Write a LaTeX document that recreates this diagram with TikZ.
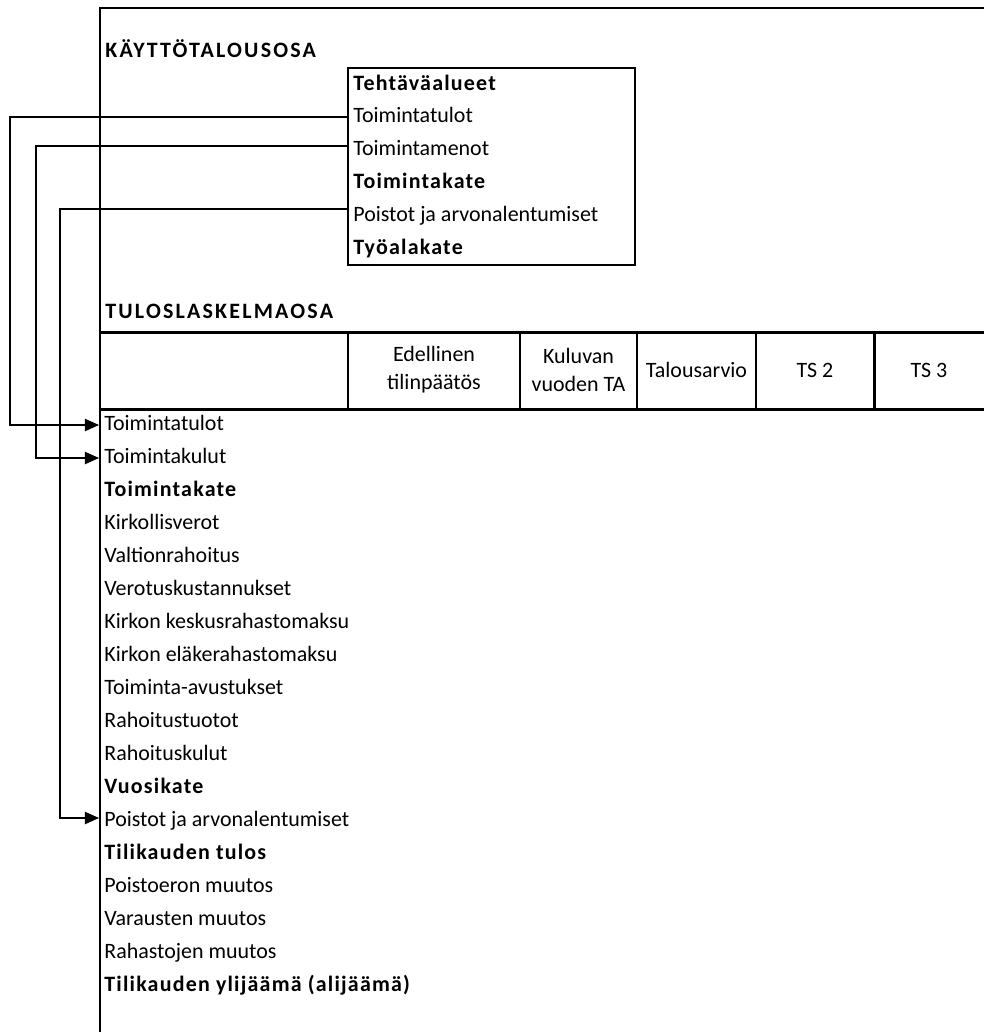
\documentclass[tikz,border=0pt]{standalone}
\usepackage{fontspec}
\setmainfont{Carlito}
\usepackage{tikz}
\usetikzlibrary{arrows.meta,positioning}

\begin{document}
\begin{tikzpicture}
	[x=0.02cm, y=-0.02cm, inner sep=0pt,
	font=\fontsize{12.5}{16}\selectfont,
	row/.style	= {anchor=west, text height=9pt, text depth=3pt},
	heading/.style	= {row, font=\fontsize{12.5}{16}\selectfont\bfseries\addfontfeatures{LetterSpace=5.5}},
	section/.style	= {row, font=\fontsize{12.5}{16}\selectfont\bfseries\addfontfeatures{LetterSpace=10}},
	colhead/.style	= {align=center, font=\fontsize{12.5}{16}\selectfont},
	frame/.style	= {line width=1.7pt},
	boxline/.style	= {line width=1.3pt},
	link/.style	= {-{Triangle[length=8pt, width=7pt]}, line width=0.6pt}]
	
	\useasboundingbox (0,0) rectangle (984,1032);
	
	% frame and table head
	\draw [frame] (984,8) -- (100,8) -- (100,1032);
	\draw [frame] (100,332) -- (984,332);
	\draw [frame] (100,409) -- (984,409);
	\foreach \cx in {348,520,637,756,874}
		\draw [frame] (\cx,332) -- (\cx,409);
	
	\node at (105,52)	[section]	(kto)	{KÄYTTÖTALOUSOSA};
	\node at (105,313)	[section]	(tlo)	{TULOSLASKELMAOSA};
	
	% tehtavaalueet box
	\node at (491.5,166.5)	[draw, boxline, minimum width=5.74cm, minimum height=3.94cm] (box) {};
	\node at (353,85)	[heading]	(ka1)	{Tehtäväalueet};
	\node at (353,117)	[row]		(ka2)	{Toimintatulot};
	\node at (353,150)	[row]		(ka3)	{Toimintamenot};
	\node at (353,183)	[heading]	(ka4)	{Toimintakate};
	\node at (353,216)	[row]		(ka5)	{Poistot ja arvonalentumiset};
	\node at (353,249)	[heading]	(ka6)	{Työalakate};
	
	% column heads
	\node at (434,370)	[colhead]	(c1)	{Edellinen\\tilinpäätös};
	\node at (578.5,370)	[colhead]	(c2)	{Kuluvan\\vuoden TA};
	\node at (696.5,370)	[colhead]	(c3)	{Talousarvio};
	\node at (815,370)	[colhead]	(c4)	{TS 2};
	\node at (929,370)	[colhead]	(c5)	{TS 3};
	
	% tuloslaskelma rows
	\node at (104,425)	[row]		(ta1)	{Toimintatulot};
	\node at (104,458)	[row]		(ta2)	{Toimintakulut};
	\node at (104,491)	[heading]	(ta3)	{Toimintakate};
	\node at (104,524)	[row]		(ta4)	{Kirkollisverot};
	\node at (104,557)	[row]		(ta5)	{Valtionrahoitus};
	\node at (104,590)	[row]		(ta6)	{Verotuskustannukset};
	\node at (104,623)	[row]		(ta7)	{Kirkon keskusrahastomaksu};
	\node at (104,656)	[row]		(ta8)	{Kirkon eläkerahastomaksu};
	\node at (104,689)	[row]		(ta9)	{Toiminta-avustukset};
	\node at (104,722)	[row]		(ta10)	{Rahoitustuotot};
	\node at (104,755)	[row]		(ta11)	{Rahoituskulut};
	\node at (104,788)	[heading]	(ta12)	{Vuosikate};
	\node at (104,821)	[row]		(ta13)	{Poistot ja arvonalentumiset};
	\node at (104,854)	[heading]	(ta14)	{Tilikauden tulos};
	\node at (104,887)	[row]		(ta15)	{Poistoeron muutos};
	\node at (104,920)	[row]		(ta16)	{Varausten muutos};
	\node at (104,953)	[row]		(ta17)	{Rahastojen muutos};
	\node at (104,986)	[heading]	(ta18)	{Tilikauden ylijäämä (alijäämä)};
	
	% connectors
	\coordinate (r1) at (10,0);
	\coordinate (r2) at (36,0);
	\coordinate (r3) at (60,0);
	\coordinate (t1) at (99,425);
	\coordinate (t2) at (99,458);
	\coordinate (t3) at (99,818);
	
	\draw [link] (box.west |- ka2) -- (r1 |- ka2) |- (t1);
	\draw [link] (box.west |- 0,146) -- (r2 |- 0,146) |- (t2);
	\draw [link] (box.west |- 0,209) -- (r3 |- 0,209) |- (t3);
	
\end{tikzpicture}
\end{document}
